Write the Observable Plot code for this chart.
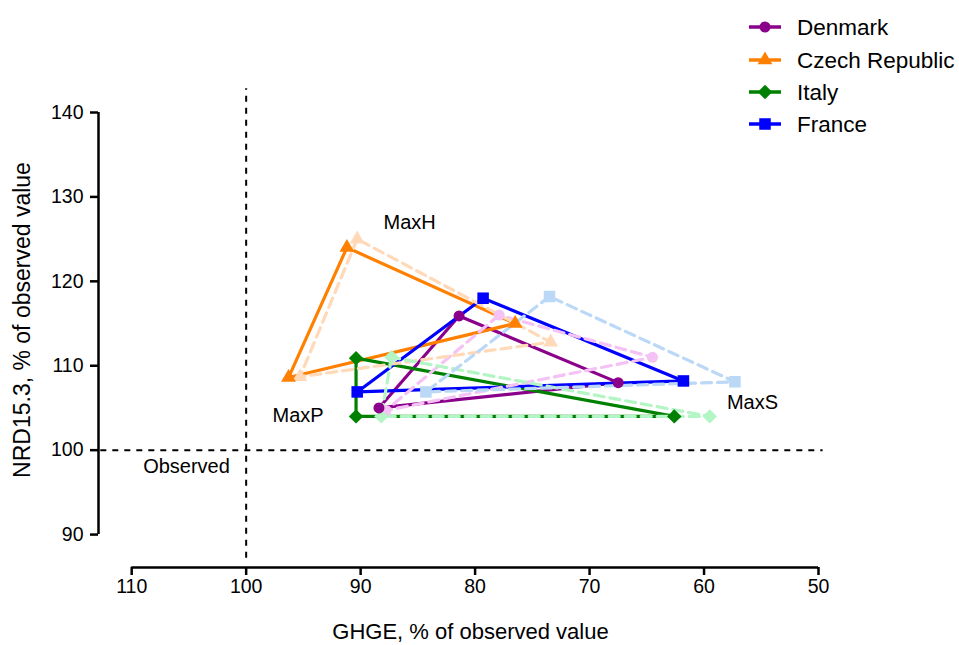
<!DOCTYPE html>
<html>
<head>
<meta charset="utf-8">
<script src="https://cdn.jsdelivr.net/npm/d3@7"></script>
<script src="https://cdn.jsdelivr.net/npm/@observablehq/plot@0.6"></script>
<style>
  html, body { margin: 0; padding: 0; background: #fff; }
  #wrap { position: relative; width: 959px; height: 645px; font-family: "Liberation Sans", Arial, sans-serif; }
  #legend { position: absolute; left: 740px; top: 8px; }
</style>
</head>
<body>
<div id="wrap">
  <div id="chart"></div>
  <svg id="legend" width="219" height="140"></svg>
</div>
<script>
// ---- data ----
const countries = ["Denmark", "Czech Republic", "Italy", "France"];
const scenarios = ["MaxH", "MaxP", "MaxS"];

// solid series (GHGE %, NRD15.3 %) for MaxH, MaxP, MaxS
const denmarkGHGE = [81.4, 88.4, 67.5];
const denmarkNRD  = [115.9, 105.0, 108.0];
const czechGHGE   = [91.2, 96.3, 76.5];
const czechNRD    = [124.0, 108.6, 115.0];
const italyGHGE   = [90.4, 90.4, 62.6];
const italyNRD    = [110.9, 104.0, 104.0];
const franceGHGE  = [79.3, 90.3, 61.8];
const franceNRD   = [118.0, 106.9, 108.2];

// pale dashed series
const denmarkGHGE2 = [77.9, 87.8, 64.5];
const denmarkNRD2  = [116.0, 104.7, 111.0];
const czechGHGE2   = [90.3, 95.3, 73.4];
const czechNRD2    = [125.0, 108.7, 112.8];
const italyGHGE2   = [87.3, 88.2, 59.5];
const italyNRD2    = [111.0, 104.0, 104.0];
const franceGHGE2  = [73.5, 84.3, 57.3];
const franceNRD2   = [118.2, 106.9, 108.1];

const xTicks = [110, 100, 90, 80, 70, 60, 50];
const yTicks = [90, 100, 110, 120, 130, 140];

const annLabels = ["MaxH", "MaxP", "MaxS", "Observed"];
const annX = [88.0, 97.7, 58.0, 109.0];
const annY = [127.0, 104.1, 105.6, 98.1];

const solidColors = ["#8B008B", "#FF8000", "#008000", "#0000FF"];
const paleColors  = ["#F5C2F5", "#FFD9B8", "#B3F5C4", "#BBD9F7"];
const symbols = ["circle", "triangle", "diamond2", "square"];
const symbolR = [5.5, 5.5, 6.5, 6.5];

// ---- build tables ----
const solidX = [denmarkGHGE, czechGHGE, italyGHGE, franceGHGE];
const solidY = [denmarkNRD, czechNRD, italyNRD, franceNRD];
const paleX = [denmarkGHGE2, czechGHGE2, italyGHGE2, franceGHGE2];
const paleY = [denmarkNRD2, czechNRD2, italyNRD2, franceNRD2];

function points(xs, ys, ci) {
  return scenarios.map((s, i) => ({country: countries[ci], scenario: s, x: xs[i], y: ys[i]}));
}
function loop(xs, ys, ci) {
  const p = points(xs, ys, ci);
  return [p[0], p[1], p[2], p[0]];
}

const marks = [];

// reference lines
marks.push(Plot.ruleX([100], {y1: 87.2, y2: 142.8, stroke: "black", strokeWidth: 2, strokeDasharray: "6,6"}));
marks.push(Plot.ruleY([100], {x1: 112.7, x2: 49.6, stroke: "black", strokeWidth: 2, strokeDasharray: "6,6"}));

// solid lines
countries.forEach((c, ci) => {
  marks.push(Plot.line(loop(solidX[ci], solidY[ci], ci), {x: "x", y: "y", stroke: solidColors[ci], strokeWidth: 3.2}));
});
// pale dashed lines
countries.forEach((c, ci) => {
  marks.push(Plot.line(loop(paleX[ci], paleY[ci], ci), {x: "x", y: "y", stroke: paleColors[ci], strokeWidth: 3.2, strokeDasharray: "10,6"}));
});
// pale markers
countries.forEach((c, ci) => {
  marks.push(Plot.dot(points(paleX[ci], paleY[ci], ci), {x: "x", y: "y", symbol: symbols[ci], r: symbolR[ci], fill: paleColors[ci], stroke: "none"}));
});
// solid markers
countries.forEach((c, ci) => {
  marks.push(Plot.dot(points(solidX[ci], solidY[ci], ci), {x: "x", y: "y", symbol: symbols[ci], r: symbolR[ci], fill: solidColors[ci], stroke: "none"}));
});

// axes
marks.push(Plot.axisX({ticks: xTicks, tickSize: 8, strokeWidth: 2.5, tickPadding: 4, label: null, tickFormat: d => d, fontSize: 19.5}));
marks.push(Plot.axisY({ticks: yTicks, tickSize: 8, strokeWidth: 2.5, tickPadding: 7, label: null, tickFormat: d => d, fontSize: 19.5}));
marks.push(Plot.ruleY([86.1], {x1: xTicks[0], x2: xTicks[xTicks.length - 1], stroke: "black", strokeWidth: 2.5}));
marks.push(Plot.ruleX([112.9], {y1: yTicks[0], y2: yTicks[yTicks.length - 1], stroke: "black", strokeWidth: 2.5}));

// axis titles
marks.push(Plot.text(["GHGE, % of observed value"], {text: d => d, frameAnchor: "bottom", textAnchor: "middle", lineAnchor: "middle", dy: 64, dx: 12, fontSize: 22, fill: "black"}));
marks.push(Plot.text(["NRD15.3, % of observed value"], {text: d => d, frameAnchor: "left", textAnchor: "middle", lineAnchor: "middle", rotate: -90, dx: -76, dy: -20, fontSize: 23, fill: "black"}));

// annotations
marks.push(Plot.text(annLabels.map((t, i) => ({t, x: annX[i], y: annY[i]})), {x: "x", y: "y", text: "t", textAnchor: "start", fontSize: 20, fill: "black"}));

const chart = Plot.plot({
  width: 959,
  height: 645,
  marginLeft: 98,
  marginRight: 141,
  marginTop: 112,
  marginBottom: 78,
  x: {domain: [112.9, 50]},
  y: {domain: [86.1, 140]},
  style: {fontFamily: "'Liberation Sans', Arial, sans-serif", fontSize: "19px", color: "black", background: "white", overflow: "visible"},
  marks
});
document.getElementById("chart").appendChild(chart);

// legend
const lg = d3.select("#legend");
const rowY = [19, 52, 84, 116];
const symMap = {circle: d3.symbolCircle, triangle: d3.symbolTriangle, diamond2: d3.symbolDiamond2, square: d3.symbolSquare};
countries.forEach((c, ci) => {
  const g = lg.append("g").attr("transform", `translate(0,${rowY[ci]})`);
  g.append("line").attr("x1", 9).attr("x2", 41).attr("y1", 0).attr("y2", 0)
    .attr("stroke", solidColors[ci]).attr("stroke-width", 3.5);
  g.append("path").attr("transform", "translate(25,0)")
    .attr("d", d3.symbol(symMap[symbols[ci]], Math.PI * symbolR[ci] * symbolR[ci])())
    .attr("fill", solidColors[ci]);
  g.append("text").attr("x", 57).attr("y", 0).attr("dy", "0.35em")
    .attr("font-size", 22.5).attr("fill", "black").text(c);
});
</script>
</body>
</html>
